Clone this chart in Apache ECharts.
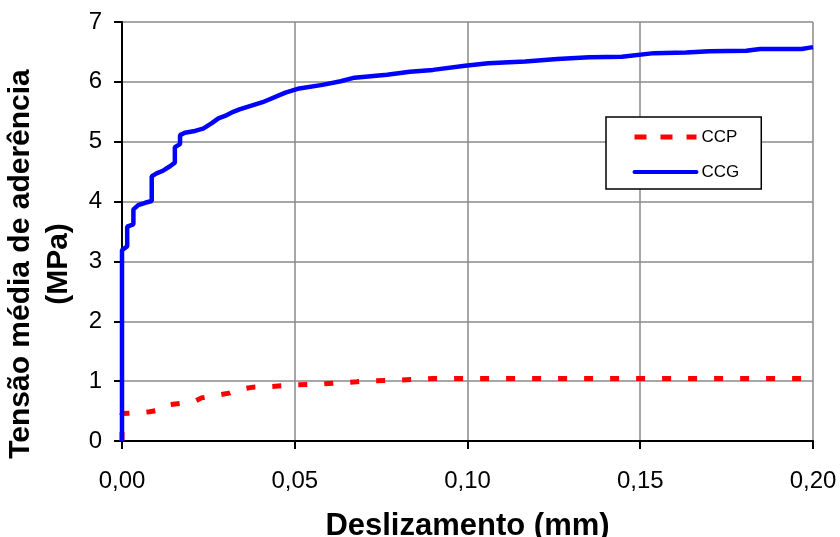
<!DOCTYPE html>
<html>
<head>
<meta charset="utf-8">
<script src="https://cdn.jsdelivr.net/npm/echarts@6/dist/echarts.min.js"></script>
<style>
html,body{margin:0;padding:0;background:#fff;}
#chart{width:840px;height:537px;}
</style>
</head>
<body>
<div id="chart"></div>
<script>
// Data: [slip (mm), bond stress (MPa)]
const ccpData = [
  [0, 0], [0, 0.46], [0.004, 0.47], [0.008, 0.49], [0.011, 0.52], [0.013, 0.60],
  [0.017, 0.63], [0.021, 0.66], [0.023, 0.72], [0.028, 0.77], [0.031, 0.80],
  [0.033, 0.85], [0.038, 0.90], [0.043, 0.91], [0.050, 0.94], [0.057, 0.95],
  [0.062, 0.97], [0.068, 0.99], [0.070, 1.00], [0.077, 1.01], [0.085, 1.03],
  [0.090, 1.045], [0.200, 1.045]
];
const ccgData = [
  [0, 0], [0, 3.19], [0.0015, 3.25], [0.0015, 3.58], [0.0033, 3.62], [0.0033, 3.87],
  [0.0047, 3.94], [0.0067, 3.98], [0.0086, 4.01], [0.0086, 4.42], [0.010, 4.47],
  [0.012, 4.52], [0.0139, 4.59], [0.0153, 4.65], [0.0153, 4.91], [0.0168, 4.96],
  [0.0168, 5.11], [0.0182, 5.15], [0.0211, 5.18], [0.0235, 5.22], [0.026, 5.31],
  [0.0279, 5.39], [0.0298, 5.43], [0.0322, 5.50], [0.034, 5.54], [0.0407, 5.66],
  [0.0473, 5.82], [0.0513, 5.89], [0.058, 5.95], [0.0633, 6.01], [0.0673, 6.07],
  [0.0767, 6.12], [0.0833, 6.17], [0.090, 6.20], [0.0993, 6.27], [0.106, 6.31],
  [0.1167, 6.34], [0.126, 6.38], [0.1353, 6.41], [0.1447, 6.42], [0.154, 6.48],
  [0.1633, 6.49], [0.170, 6.51], [0.1807, 6.52], [0.1847, 6.55], [0.1967, 6.55],
  [0.200, 6.58]
];
const seriesNames = ['CCP', 'CCG'];
const xTickLabels = ['0,00', '0,05', '0,10', '0,15', '0,20'];
const yTickLabels = ['0', '1', '2', '3', '4', '5', '6', '7'];
const xTitle = 'Deslizamento (mm)';
const yTitle = 'Tensão média de aderência\n(MPa)';

const FONT = '"Liberation Sans", Arial, sans-serif';
const chart = echarts.init(document.getElementById('chart'), null, {renderer: 'canvas'});
chart.setOption({
  animation: false,
  backgroundColor: '#ffffff',
  textStyle: {fontFamily: FONT},
  grid: {left: 122, right: 27, top: 22, bottom: 96, containLabel: false, outerBoundsMode: 'none'},
  legend: {
    data: [
      {name: seriesNames[0], lineStyle: {width: 5, type: [12, 14], color: '#ff0000', cap: 'butt'}},
      {name: seriesNames[1], lineStyle: {width: 4, color: '#0000ff', cap: 'round'}}
    ],
    orient: 'vertical',
    left: 606,
    top: 117,
    itemWidth: 62,
    itemHeight: 14,
    itemGap: 8,
    padding: [6.5, 22, 3.5, 26],
    backgroundColor: '#ffffff',
    borderColor: '#000000',
    borderWidth: 1.5,
    borderRadius: 0,
    itemStyle: {color: 'rgba(0,0,0,0)', borderWidth: 0, opacity: 0},
    textStyle: {fontSize: 17, color: '#000', fontFamily: FONT, padding: [10, 0, 0, 0], lineHeight: 17}
  },
  xAxis: {
    type: 'value',
    min: 0,
    max: 0.2,
    interval: 0.05,
    name: xTitle,
    nameLocation: 'middle',
    nameGap: 70,
    nameTextStyle: {fontSize: 31, fontWeight: 'bold', color: '#000', fontFamily: FONT},
    axisLine: {show: true, onZero: false, lineStyle: {color: '#000', width: 2}},
    axisTick: {show: true, inside: false, length: 8, lineStyle: {color: '#000', width: 2}},
    axisLabel: {
      margin: 28, fontSize: 24, color: '#000', fontFamily: FONT,
      formatter: function (v) { return xTickLabels[Math.round(v / 0.05)]; }
    },
    splitLine: {show: true, lineStyle: {color: '#8a8a8a', width: 1.5}}
  },
  yAxis: {
    type: 'value',
    min: 0,
    max: 7,
    interval: 1,
    name: yTitle,
    nameLocation: 'middle',
    nameRotate: 90,
    nameGap: 38,
    nameTextStyle: {fontSize: 30, fontWeight: 'bold', color: '#000', fontFamily: FONT, lineHeight: 38, padding: [0, 65, 0, 0]},
    axisLine: {show: true, onZero: false, lineStyle: {color: '#000', width: 2}},
    axisTick: {show: true, inside: false, length: 8, lineStyle: {color: '#000', width: 2}},
    axisLabel: {
      margin: 20, fontSize: 24, color: '#000', fontFamily: FONT,
      formatter: function (v) { return yTickLabels[Math.round(v)]; }
    },
    splitLine: {show: true, lineStyle: {color: '#8a8a8a', width: 1.5}}
  },
  series: [
    {
      name: seriesNames[0],
      type: 'line',
      data: ccpData,
      symbol: 'none',
      smooth: false,
      lineStyle: {color: '#ff0000', width: 5, type: [9, 17], cap: 'butt'},
      itemStyle: {color: '#ff0000'},
      z: 2
    },
    {
      name: seriesNames[1],
      type: 'line',
      data: ccgData,
      symbol: 'none',
      smooth: false,
      lineStyle: {color: '#0000ff', width: 4.5},
      itemStyle: {color: '#0000ff'},
      z: 3
    }
  ]
});
</script>
</body>
</html>
